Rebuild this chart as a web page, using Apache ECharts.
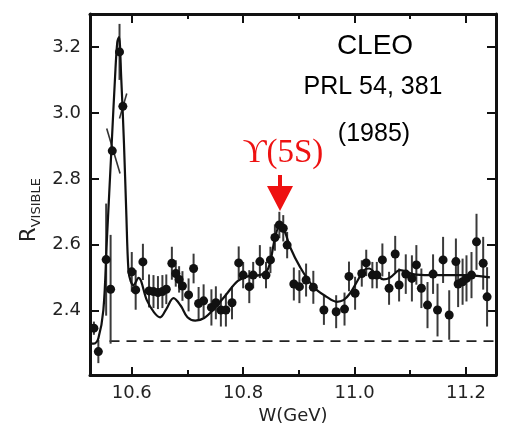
<!DOCTYPE html>
<html><head><meta charset="utf-8">
<script src="https://cdn.jsdelivr.net/npm/echarts@6/dist/echarts.min.js"></script>
<style>html,body{margin:0;padding:0;background:#fff}#c{width:510px;height:430px}</style>
</head><body><div id="c"></div>
<script>
// ---- data ----
const W = [10.532,10.540,10.554,10.562,10.565,10.578,10.584,10.600,10.607,10.620,10.631,10.639,10.647,10.655,10.662,10.672,10.679,10.685,10.691,10.702,10.711,10.720,10.729,10.743,10.751,10.760,10.769,10.780,10.792,10.800,10.811,10.818,10.830,10.841,10.849,10.857,10.865,10.872,10.879,10.891,10.901,10.913,10.926,10.945,10.967,10.982,10.990,11.001,11.013,11.021,11.032,11.040,11.050,11.062,11.073,11.080,11.092,11.103,11.111,11.120,11.131,11.141,11.149,11.159,11.170,11.182,11.186,11.194,11.201,11.210,11.219,11.231,11.238];
const R = [2.347,2.276,2.555,2.465,2.885,3.185,3.020,2.518,2.463,2.548,2.460,2.458,2.455,2.458,2.465,2.544,2.513,2.495,2.475,2.448,2.528,2.422,2.430,2.410,2.424,2.402,2.402,2.424,2.545,2.508,2.473,2.508,2.549,2.508,2.554,2.622,2.660,2.650,2.599,2.481,2.473,2.493,2.471,2.402,2.397,2.405,2.504,2.453,2.513,2.545,2.508,2.508,2.554,2.468,2.572,2.478,2.511,2.498,2.539,2.468,2.417,2.511,2.402,2.554,2.387,2.549,2.481,2.488,2.498,2.508,2.609,2.544,2.442];
const ERR = [0.02,0.035,0.17,0.165,0,0.085,0,0.06,0.06,0.055,0.05,0.05,0.05,0.05,0.045,0.05,0.04,0.04,0.045,0.05,0.045,0.05,0.05,0.055,0.05,0.05,0.05,0.05,0.05,0.04,0.05,0.04,0.05,0.04,0.04,0.04,0.04,0.04,0.04,0.05,0.05,0.05,0.05,0.045,0.05,0.05,0.045,0.05,0.04,0.04,0.04,0.04,0.05,0.05,0.055,0.05,0.06,0.07,0.06,0.06,0.07,0.06,0.08,0.07,0.075,0.07,0.07,0.07,0.07,0.07,0.085,0.08,0.09];
// tilted error bars on the steep rising/falling edge: [W1, R1, W2, R2]
const slantBars = [[10.555,2.953,10.579,2.816],[10.578,2.983,10.591,3.059]];
// fitted curve
const fitW = [10.525,10.532,10.540,10.549,10.555,10.564,10.570,10.574,10.577,10.581,10.586,10.590,10.594,10.598,10.603,10.612,10.627,10.640,10.651,10.662,10.675,10.688,10.700,10.714,10.730,10.750,10.770,10.790,10.810,10.830,10.845,10.857,10.866,10.875,10.884,10.902,10.926,10.950,10.968,10.980,10.992,11.005,11.017,11.026,11.040,11.052,11.064,11.082,11.105,11.135,11.195,11.243];
const fitR = [2.300,2.300,2.316,2.402,2.604,2.907,3.109,3.215,3.230,3.109,2.907,2.705,2.523,2.490,2.478,2.500,2.432,2.395,2.380,2.405,2.438,2.415,2.380,2.370,2.378,2.410,2.450,2.490,2.505,2.508,2.528,2.619,2.660,2.639,2.594,2.533,2.473,2.442,2.427,2.432,2.453,2.490,2.523,2.528,2.508,2.495,2.501,2.523,2.511,2.508,2.508,2.501];
const baseW = [10.560, 11.254];
const baseR = 2.308;
const xTicks = [10.6, 10.8, 11.0, 11.2];
const xMinorTicks = [10.7, 10.9, 11.1];
const yTicks = [2.4, 2.6, 2.8, 3.0, 3.2];
const XMIN = 10.525, XMAX = 11.254, YMIN = 2.205, YMAX = 3.30;

const frame = {color:'#111', width:3};
const tickStyle = {color:'#111', width:2};
function xAx(pos, ticks, len, showLine, labels){
  return {type:'value', position:pos, min:XMIN, max:XMAX,
    axisLine:{show:showLine, onZero:false, lineStyle:frame},
    axisTick:{show:true, inside:true, length:len, customValues:ticks, lineStyle:tickStyle},
    axisLabel: labels ? {show:true, customValues:ticks, formatter:v=>v.toFixed(1), fontSize:18, color:'#222', margin:9, fontFamily:'DejaVu Sans'} : {show:false},
    splitLine:{show:false}, minorTick:{show:false}};
}
function yAx(pos, labels){
  return {type:'value', position:pos, min:YMIN, max:YMAX,
    axisLine:{show:true, onZero:false, lineStyle:frame},
    axisTick:{show:true, inside:true, length:9, customValues:yTicks, lineStyle:tickStyle},
    axisLabel: labels ? {show:true, customValues:yTicks, formatter:v=>v.toFixed(1), fontSize:18, color:'#222', margin:9, fontFamily:'DejaVu Sans'} : {show:false},
    splitLine:{show:false}};
}
const xAxes = [xAx('bottom', xTicks, 8, true, true), xAx('bottom', xMinorTicks, 5, false, false), xAx('top', xTicks, 9, true, false), xAx('top', xMinorTicks, 5, false, false)];
xAxes[0].name = 'W(GeV)';
xAxes[0].nameLocation = 'middle';
xAxes[0].nameGap = 27;
xAxes[0].nameTextStyle = {fontSize:18, color:'#222', fontFamily:'DejaVu Sans'};

const chart = echarts.init(document.getElementById('c'), null, {renderer:'canvas'});
chart.setOption({
  animation:false,
  backgroundColor:'#fff',
  grid:{left:90, right:14, top:14, bottom:55, containLabel:false},
  xAxis: xAxes,
  yAxis: [yAx('left', true), yAx('right', false)],
  series:[
    {type:'line', data: baseW.map(w=>[w, baseR]), showSymbol:false, symbol:'none',
     lineStyle:{color:'#222', width:1.8, type:[10,7]}, z:2, silent:true},
    {type:'custom', z:3, encode:{x:0, y:[1,2]},
     data: W.map((w,i)=>[w, R[i]-ERR[i], R[i]+ERR[i]]),
     renderItem:(params, api)=>{
       const p1 = api.coord([api.value(0), api.value(1)]);
       const p2 = api.coord([api.value(0), api.value(2)]);
       return {type:'line', shape:{x1:p1[0], y1:p1[1], x2:p2[0], y2:p2[1]}, style:{stroke:'#3a3a3a', lineWidth:2}};
     }},
    {type:'custom', z:3, encode:{x:[0,2], y:[1,3]},
     data: slantBars,
     renderItem:(params, api)=>{
       const p1 = api.coord([api.value(0), api.value(1)]);
       const p2 = api.coord([api.value(2), api.value(3)]);
       return {type:'line', shape:{x1:p1[0], y1:p1[1], x2:p2[0], y2:p2[1]}, style:{stroke:'#333', lineWidth:1.6}};
     }},
    {type:'line', data: fitW.map((w,i)=>[w, fitR[i]]), smooth:0.35, showSymbol:false, symbol:'none',
     lineStyle:{color:'#111', width:2.2}, z:4},
    {type:'scatter', data: W.map((w,i)=>[w, R[i]]), symbol:'circle', symbolSize:9,
     itemStyle:{color:'#111', opacity:1}, z:5}
  ],
  graphic:[
    {type:'text', x:375, y:46, style:{text:'CLEO', fontSize:28, fontFamily:'Liberation Sans', fill:'#000', align:'center', verticalAlign:'middle'}},
    {type:'text', x:373, y:87, style:{text:'PRL 54, 381', fontSize:25, fontFamily:'Liberation Sans', fill:'#000', align:'center', verticalAlign:'middle'}},
    {type:'text', x:374, y:134, style:{text:'(1985)', fontSize:25, fontFamily:'Liberation Sans', fill:'#000', align:'center', verticalAlign:'middle'}},
    {type:'text', x:283, y:153, style:{text:'ϒ(5S)', fontSize:33, fontFamily:'Liberation Serif', fill:'#ee1111', align:'center', verticalAlign:'middle'}},
    {type:'polygon', shape:{points:[[278,175],[282,175],[282,186],[293,186],[280,211],[267,186],[278,186]]}, style:{fill:'#ee1111'}},
    {type:'text', x:30, y:210, rotation:Math.PI/2,
     style:{text:'{a|R}{b|VISIBLE}', align:'center', verticalAlign:'middle', fill:'#222',
       rich:{a:{fontSize:21, fontFamily:'DejaVu Sans', fill:'#222'}, b:{fontSize:13, fontFamily:'DejaVu Sans', fill:'#222', padding:[14,0,0,0]}}}}
  ]
});
</script>
</body></html>
